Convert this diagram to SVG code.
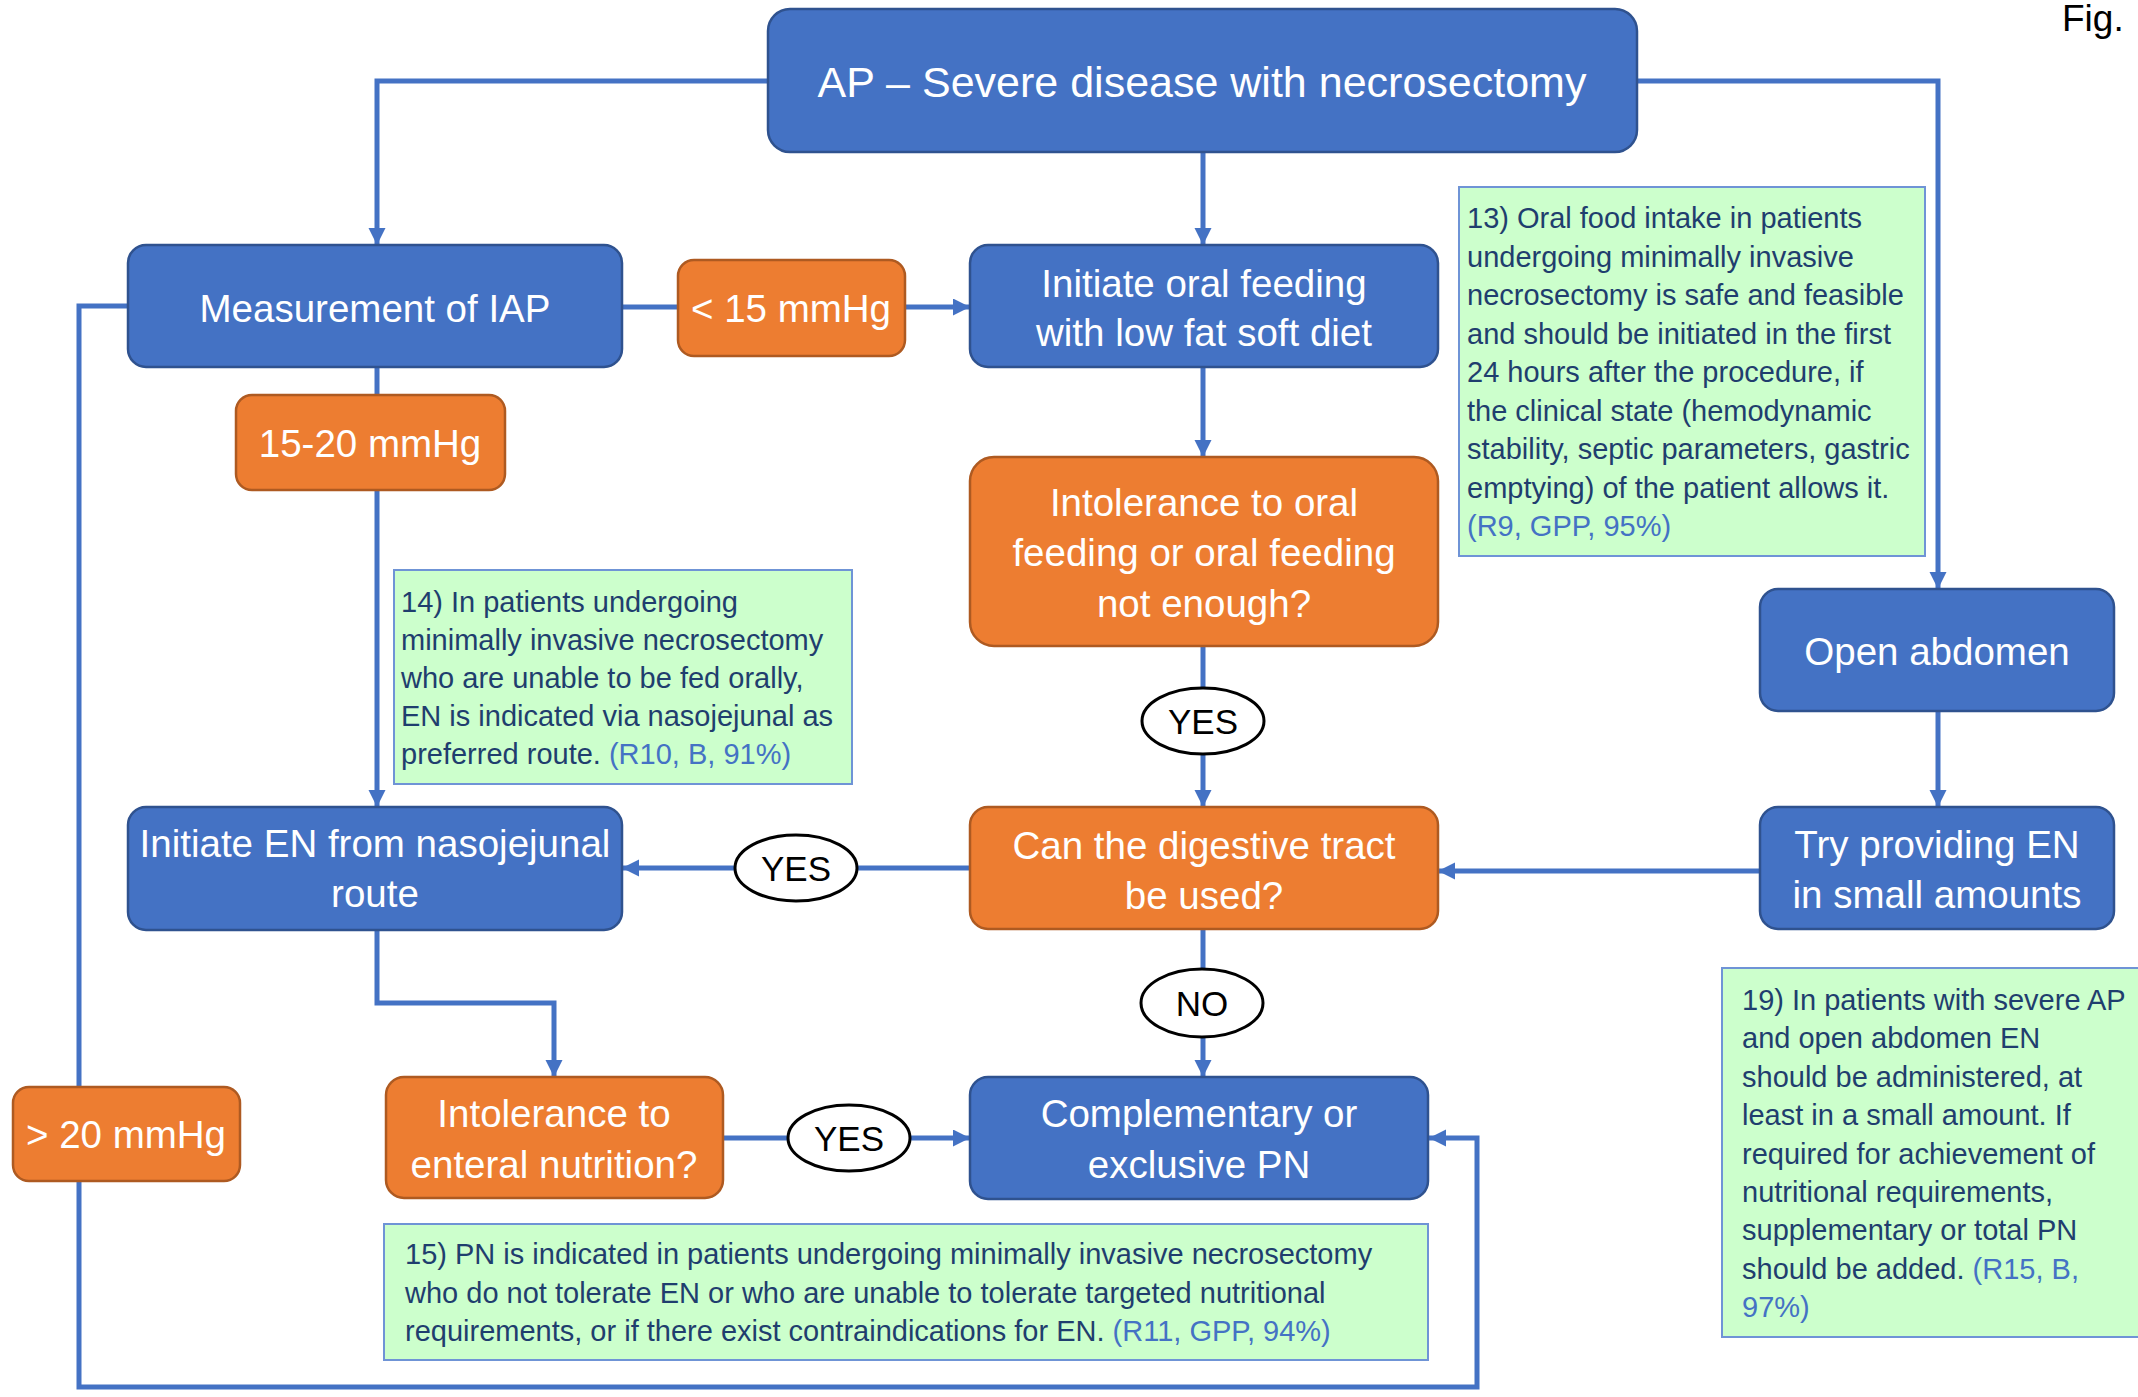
<svg xmlns="http://www.w3.org/2000/svg" width="2138" height="1397" viewBox="0 0 2138 1397">
<defs>
<marker id="ah" markerUnits="userSpaceOnUse" markerWidth="18" markerHeight="18" refX="17" refY="8.5" orient="auto">
<path d="M0,0 L17,8.5 L0,17 z" fill="#4472C4"/>
</marker>
<style>
.blue{fill:#4472C4;stroke:#2F528F;stroke-width:2.5}
.orange{fill:#ED7D31;stroke:#AE5A21;stroke-width:2.5}
.green{fill:#CCFFCC;stroke:#6F94D6;stroke-width:2}
.bt{font-family:"Liberation Sans",Arial,sans-serif;font-size:38.5px;fill:#FFFFFF;text-anchor:middle}
.title{font-size:43px}
.gt{font-family:"Liberation Sans",Arial,sans-serif;font-size:29px;fill:#1F3E6E}
.ref{fill:#4472C4}
.lbl{font-family:"Liberation Sans",Arial,sans-serif;font-size:35px;fill:#000000;text-anchor:middle}
.oval{fill:#FFFFFF;stroke:#000000;stroke-width:3}
.c{fill:none;stroke:#4472C4;stroke-width:5}
.ca{fill:none;stroke:#4472C4;stroke-width:5;marker-end:url(#ah)}
</style>
</defs>
<rect width="2138" height="1397" fill="#FFFFFF"/>
<text x="2062" y="31" font-family="Liberation Sans,Arial,sans-serif" font-size="37" fill="#000000">Fig.</text>

<g id="connectors">
<path class="ca" d="M768,81 H377 V245"/>
<path class="ca" d="M1203,152 V245"/>
<path class="ca" d="M1637,81 H1938 V589"/>
<path class="c" d="M622,307 H678"/>
<path class="ca" d="M905,307 H970"/>
<path class="c" d="M377,367 V395"/>
<path class="ca" d="M377,490 V807"/>
<path class="ca" d="M1203,367 V457"/>
<path class="c" d="M1203,646 V688"/>
<path class="ca" d="M1203,754 V807"/>
<path class="c" d="M970,868 H857"/>
<path class="ca" d="M735,868 H622"/>
<path class="ca" d="M1938,711 V807"/>
<path class="ca" d="M1760,871 H1438"/>
<path class="c" d="M1203,929 V969"/>
<path class="ca" d="M1203,1037 V1077"/>
<path class="ca" d="M377,930 V1003 H554 V1077"/>
<path class="c" d="M723,1138 H788"/>
<path class="ca" d="M910,1138 H970"/>
<path class="c" d="M128,306 H79 V1087"/>
<path class="ca" d="M79,1181 V1387 H1477 V1138 H1429"/>
</g>

<g id="n-top"><rect class="blue" x="768" y="9" width="869" height="143" rx="22"/><text class="bt title" x="1202" y="97">AP – Severe disease with necrosectomy</text></g>
<g id="n-iap"><rect class="blue" x="128" y="245" width="494" height="122" rx="18"/><text class="bt" x="375" y="322">Measurement of IAP</text></g>
<g id="n-lt15"><rect class="orange" x="678" y="260" width="227" height="96" rx="16"/><text class="bt" x="791" y="322">&lt; 15 mmHg</text></g>
<g id="n-oral"><rect class="blue" x="970" y="245" width="468" height="122" rx="18"/><text class="bt" x="1204" y="297">Initiate oral feeding</text><text class="bt" x="1204" y="346">with low fat soft diet</text></g>
<g id="n-1520"><rect class="orange" x="236" y="395" width="269" height="95" rx="16"/><text class="bt" x="370" y="457">15-20 mmHg</text></g>
<g id="n-intoloral"><rect class="orange" x="970" y="457" width="468" height="189" rx="24"/><text class="bt" x="1204" y="516">Intolerance to oral</text><text class="bt" x="1204" y="566">feeding or oral feeding</text><text class="bt" x="1204" y="617">not enough?</text></g>
<g id="n-open"><rect class="blue" x="1760" y="589" width="354" height="122" rx="18"/><text class="bt" x="1937" y="665">Open abdomen</text></g>
<g id="n-can"><rect class="orange" x="970" y="807" width="468" height="122" rx="18"/><text class="bt" x="1204" y="859">Can the digestive tract</text><text class="bt" x="1204" y="909">be used?</text></g>
<g id="n-try"><rect class="blue" x="1760" y="807" width="354" height="122" rx="18"/><text class="bt" x="1937" y="858">Try providing EN</text><text class="bt" x="1937" y="908">in small amounts</text></g>
<g id="n-initen"><rect class="blue" x="128" y="807" width="494" height="123" rx="18"/><text class="bt" x="375" y="857">Initiate EN from nasojejunal</text><text class="bt" x="375" y="907">route</text></g>
<g id="n-gt20"><rect class="orange" x="13" y="1087" width="227" height="94" rx="16"/><text class="bt" x="126" y="1148">&gt; 20 mmHg</text></g>
<g id="n-intolent"><rect class="orange" x="386" y="1077" width="337" height="121" rx="18"/><text class="bt" x="554" y="1127">Intolerance to</text><text class="bt" x="554" y="1178">enteral nutrition?</text></g>
<g id="n-compl"><rect class="blue" x="970" y="1077" width="458" height="122" rx="18"/><text class="bt" x="1199" y="1127">Complementary or</text><text class="bt" x="1199" y="1178">exclusive PN</text></g>

<g id="l-yes1"><ellipse class="oval" cx="1203" cy="721" rx="61" ry="33"/><text class="lbl" x="1203" y="734">YES</text></g>
<g id="l-yes2"><ellipse class="oval" cx="796" cy="868" rx="61" ry="33"/><text class="lbl" x="796" y="881">YES</text></g>
<g id="l-yes3"><ellipse class="oval" cx="849" cy="1138" rx="61" ry="33"/><text class="lbl" x="849" y="1151">YES</text></g>
<g id="l-no"><ellipse class="oval" cx="1202" cy="1003" rx="61" ry="34"/><text class="lbl" x="1202" y="1016">NO</text></g>

<g id="note13"><rect class="green" x="1459" y="187" width="466" height="369"/>
<text class="gt" x="1467" y="228">13) Oral food intake in patients</text>
<text class="gt" x="1467" y="266.5">undergoing minimally invasive</text>
<text class="gt" x="1467" y="305">necrosectomy is safe and feasible</text>
<text class="gt" x="1467" y="343.5">and should be initiated in the first</text>
<text class="gt" x="1467" y="382">24 hours after the procedure, if</text>
<text class="gt" x="1467" y="420.5">the clinical state (hemodynamic</text>
<text class="gt" x="1467" y="459">stability, septic parameters, gastric</text>
<text class="gt" x="1467" y="497.5">emptying) of the patient allows it.</text>
<text class="gt ref" x="1467" y="536">(R9, GPP, 95%)</text>
</g>
<g id="note14"><rect class="green" x="394" y="570" width="458" height="214"/>
<text class="gt" x="401" y="612">14) In patients undergoing</text>
<text class="gt" x="401" y="650">minimally invasive necrosectomy</text>
<text class="gt" x="401" y="688">who are unable to be fed orally,</text>
<text class="gt" x="401" y="726">EN is indicated via nasojejunal as</text>
<text class="gt" x="401" y="764">preferred route. <tspan class="ref">(R10, B, 91%)</tspan></text>
</g>
<g id="note15"><rect class="green" x="384" y="1224" width="1044" height="136"/>
<text class="gt" x="405" y="1264">15) PN is indicated in patients undergoing minimally invasive necrosectomy</text>
<text class="gt" x="405" y="1302.5">who do not tolerate EN or who are unable to tolerate targeted nutritional</text>
<text class="gt" x="405" y="1341">requirements, or if there exist contraindications for EN. <tspan class="ref">(R11, GPP, 94%)</tspan></text>
</g>
<g id="note19"><rect class="green" x="1722" y="968" width="430" height="369"/>
<text class="gt" x="1742" y="1010">19) In patients with severe AP</text>
<text class="gt" x="1742" y="1048.4">and open abdomen EN</text>
<text class="gt" x="1742" y="1086.8">should be administered, at</text>
<text class="gt" x="1742" y="1125.2">least in a small amount. If</text>
<text class="gt" x="1742" y="1163.6">required for achievement of</text>
<text class="gt" x="1742" y="1202">nutritional requirements,</text>
<text class="gt" x="1742" y="1240.4">supplementary or total PN</text>
<text class="gt" x="1742" y="1278.8">should be added. <tspan class="ref">(R15, B,</tspan></text>
<text class="gt ref" x="1742" y="1317.2">97%)</text>
</g>
</svg>
